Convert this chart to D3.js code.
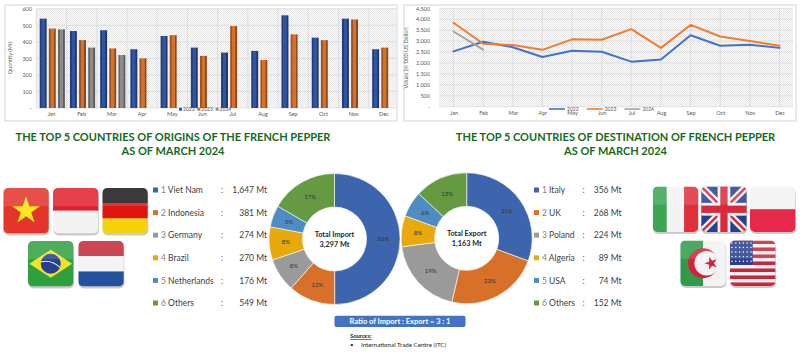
<!DOCTYPE html>
<html><head><meta charset="utf-8">
<script src="https://cdnjs.cloudflare.com/ajax/libs/d3/7.8.5/d3.min.js"></script>
<style>html,body{margin:0;padding:0;background:#fff}svg{display:block}text{font-family:Lato,"Open Sans",sans-serif}</style>
</head><body><svg id="c" width="800" height="362"></svg>
<script>
const months=["Jan","Feb","Mar","Apr","May","Jun","Jul","Aug","Sep","Oct","Nov","Dec"];
const years=["2022","2023","2024"];
const qty2022=[540,465,470,355,435,365,335,345,560,425,540,355];
const qty2023=[480,410,360,300,440,315,495,290,445,410,535,365];
const qty2024=[475,365,320];
const val2022=[2530,2970,2720,2270,2560,2510,2060,2160,3270,2790,2830,2690];
const val2023=[3840,2880,2820,2600,3080,3060,3550,2690,3740,3210,3000,2790];
const val2024=[3440,2610];
const qtyTicks=[0,100,200,300,400,500,600];
const valTicks=[0,500,1000,1500,2000,2500,3000,3500,4000,4500];
const importNames=["Viet Nam","Indonesia","Germany","Brazil","Netherlands","Others"];
const importVals=[1647,381,274,270,176,549];
const importPct=[50,12,8,8,5,17];
const exportNames=["Italy","UK","Poland","Algeria","USA","Others"];
const exportVals=[356,268,224,89,74,152];
const exportPct=[31,23,19,8,6,13];
const sliceColors=["#3d65ad","#d9702a","#9a9a9a","#e8a90c","#4f8cc6","#659a42"];
const yearColors=["#2f55a4","#d8702a","#8c8c8c"];
const lineColors=["#4472c4","#ed7d31","#a5a5a5"];

const svg=d3.select("#c");
const defs=svg.append("defs");
const pat=defs.append("pattern").attr("id","dots").attr("width",2).attr("height",2).attr("patternUnits","userSpaceOnUse");
pat.append("rect").attr("width",2).attr("height",2).attr("fill","#fbfbfb");
pat.append("rect").attr("width",1).attr("height",1).attr("fill","#e6e6e6");
pat.append("rect").attr("x",1).attr("y",1).attr("width",1).attr("height",1).attr("fill","#e6e6e6");
function bevel(id,c){
  const g=defs.append("linearGradient").attr("id",id);
  [[0,.72],[.22,.72],[.3,1],[.7,1],[.78,.62],[1,.62]].forEach(([o,k])=>{
    g.append("stop").attr("offset",o).attr("stop-color",d3.color(c).darker((1-k)*3));
  });
}
yearColors.forEach((c,i)=>bevel("bev"+i,c));

function frame(x,y,w,h){svg.append("rect").attr("x",x).attr("y",y).attr("width",w).attr("height",h).attr("fill","#fff").attr("stroke","#e2e2e2").attr("stroke-width",1.5);}
function fmt(d){return d===0?"-":d3.format(",")(d).replace(/,/g,".");}
function axisText(g){g.selectAll("text").attr("fill","#595959").style("font-size","5.5px");g.selectAll(".tick line").remove();g.select(".domain").remove();}

// bar chart
frame(5,5,392,116);
const bx=d3.scaleBand().domain(months).range([36.3,399]);
const by=d3.scaleLinear().domain([0,600]).range([108,8.7]);
svg.append("rect").attr("x",36.3).attr("y",8.7).attr("width",360).attr("height",99.3).attr("fill","url(#dots)");
const bg=svg.append("g");
bg.selectAll(".gy").data(qtyTicks).join("line").attr("x1",36.3).attr("x2",396).attr("y1",d=>by(d)).attr("y2",d=>by(d)).attr("stroke","#d9d9d9").attr("stroke-width",.8);
bg.selectAll(".gx").data(months).join("line").attr("x1",d=>bx(d)).attr("x2",d=>bx(d)).attr("y1",8.7).attr("y2",108).attr("stroke","#d9d9d9").attr("stroke-width",.8);
const sub=d3.scaleBand().domain(years).range([3.4,28.6]).paddingInner(.24);
[qty2022,qty2023,qty2024].forEach((arr,i)=>{
  svg.append("g").selectAll("rect").data(arr).join("rect")
    .attr("x",(d,j)=>bx(months[j])+sub(years[i])).attr("width",sub.bandwidth())
    .attr("y",d=>by(d)).attr("height",d=>by(0)-by(d)).attr("fill","url(#bev"+i+")");
});
svg.append("g").attr("transform","translate(35,0)").call(d3.axisLeft(by).tickValues(qtyTicks).tickFormat(fmt).tickSize(0)).call(axisText);
svg.append("g").attr("transform","translate(0,109)").call(d3.axisBottom(bx).tickSize(0).tickPadding(3)).call(axisText);
svg.append("text").attr("transform","translate(12,58) rotate(-90)").attr("text-anchor","middle").attr("font-size",5.5).attr("fill","#595959").text("Quantity (Mt)");
const bl=svg.append("g");
years.forEach((y,i)=>{
  const x=179+i*18.3;
  bl.append("rect").attr("x",x).attr("y",107.7).attr("width",3).attr("height",3).attr("fill",yearColors[i]);
  bl.append("text").attr("x",x+4).attr("y",111).attr("font-size",5).attr("fill","#595959").text(y);
});

// line chart
frame(404,5,392,116);
const lx=d3.scalePoint().domain(months).range([453.5,779.5]);
const ly=d3.scaleLinear().domain([0,4500]).range([106.7,8.3]);
svg.append("rect").attr("x",439).attr("y",8.3).attr("width",354).attr("height",98.4).attr("fill","url(#dots)");
const lg=svg.append("g");
lg.selectAll(".gy").data(valTicks).join("line").attr("x1",439).attr("x2",793).attr("y1",d=>ly(d)).attr("y2",d=>ly(d)).attr("stroke","#d9d9d9").attr("stroke-width",.8);
lg.selectAll(".gx").data(months).join("line").attr("x1",d=>lx(d)).attr("x2",d=>lx(d)).attr("y1",8.3).attr("y2",106.7).attr("stroke","#d9d9d9").attr("stroke-width",.8);
const lineGen=d3.line().x((d,j)=>lx(months[j])).y(d=>ly(d));
[val2022,val2023,val2024].forEach((arr,i)=>{
  svg.append("path").attr("d",lineGen(arr)).attr("fill","none").attr("stroke",lineColors[i]).attr("stroke-width",2).attr("stroke-linejoin","round").attr("stroke-linecap","round");
});
svg.append("g").attr("transform","translate(433,0)").call(d3.axisLeft(ly).tickValues(valTicks).tickFormat(fmt).tickSize(0)).call(axisText);
svg.append("g").attr("transform","translate(0,108)").call(d3.axisBottom(lx).tickSize(0).tickPadding(3)).call(axisText);
svg.append("text").attr("transform","translate(408,58) rotate(-90)").attr("text-anchor","middle").attr("font-size",5.5).attr("fill","#595959").text("Values (in '000 US Dollar)");
years.forEach((y,i)=>{
  const x=549+i*37.7;
  svg.append("line").attr("x1",x).attr("x2",x+16).attr("y1",109).attr("y2",109).attr("stroke",lineColors[i]).attr("stroke-width",1.6);
  svg.append("text").attr("x",x+18).attr("y",111).attr("font-size",5).attr("fill","#595959").text(y);
});

// titles
function title(cx,l1,l2){
  [[l1,141],[l2,155]].forEach(([t,y])=>svg.append("text").attr("x",cx).attr("y",y).attr("text-anchor","middle").attr("font-size",11).attr("font-weight",700).attr("fill","#156a1e").text(t));
}
title(173,"THE TOP 5 COUNTRIES OF ORIGINS OF THE FRENCH PEPPER","AS OF MARCH 2024");
title(615.5,"THE TOP 5 COUNTRIES OF DESTINATION OF FRENCH PEPPER","AS OF MARCH 2024");

// legends
function legend(sx,tx,colx,valx,names,vals){
  names.forEach((n,i)=>{
    const y=190+i*22.6;
    svg.append("rect").attr("x",sx).attr("y",y-2.5).attr("width",5).attr("height",5).attr("fill",sliceColors[i]);
    const t=svg.append("text").attr("x",tx).attr("y",y+3.2).attr("font-size",8.5).attr("fill","#404040");
    t.append("tspan").attr("fill","#7f7f7f").text(i+1);
    t.append("tspan").text(" "+n);
    svg.append("text").attr("x",colx).attr("y",y+3.2).attr("font-size",8.5).attr("fill","#595959").text(":");
    svg.append("text").attr("x",valx).attr("y",y+3.2).attr("text-anchor","end").attr("font-size",8.5).attr("fill","#404040").text(d3.format(",")(vals[i])+" Mt");
  });
}
legend(153,161,221,267,importNames,importVals);
legend(534,542,582.5,621.5,exportNames,exportVals);

// donuts
function donut(cx,cy,R,r,vals,pct,t1,t2){
  const pie=d3.pie().sort(null)(vals);
  const arc=d3.arc().innerRadius(r).outerRadius(R);
  const g=svg.append("g").attr("transform",`translate(${cx},${cy})`);
  g.selectAll("path").data(pie).join("path").attr("d",arc).attr("fill",(d,i)=>sliceColors[i]).attr("stroke","#fff").attr("stroke-width",.6);
  g.selectAll(".p").data(pie).join("text").attr("transform",d=>`translate(${arc.centroid(d)})`).attr("text-anchor","middle").attr("dy","0.35em").attr("font-size",6).attr("fill","#333").text((d,i)=>pct[i]+"%");
  g.append("text").attr("text-anchor","middle").attr("y",-2).attr("font-size",7.3).attr("font-weight",700).attr("fill","#262626").text(t1);
  g.append("text").attr("text-anchor","middle").attr("y",8).attr("font-size",7.3).attr("font-weight",700).attr("fill","#262626").text(t2);
}
donut(334.5,239,65.5,32,importVals,importPct,"Total Import","3,297 Mt");
donut(466.7,238.3,65.5,32,exportVals,exportPct,"Total Export","1,163 Mt");

// ratio pill
svg.append("rect").attr("x",334.5).attr("y",315.7).attr("width",131).attr("height",11.3).attr("rx",2).attr("fill","#4472c4");
svg.append("text").attr("x",400).attr("y",324.3).attr("text-anchor","middle").attr("font-size",7.5).attr("font-weight",700).attr("fill","#fff").text("Ratio of Import : Export = 3 : 1");

// sources
svg.append("text").attr("x",350).attr("y",338).attr("font-size",6.2).attr("font-weight",700).attr("font-style","italic").attr("text-decoration","underline").attr("fill","#262626").text("Sources:");
svg.append("text").attr("x",350).attr("y",346.5).attr("font-size",6.2).attr("fill","#262626").text("•");
svg.append("text").attr("x",361).attr("y",346.5).attr("font-size",6.2).attr("fill","#262626").text("International Trade Centre (ITC)");

// flags
let fid=0;
function flag(x,y,draw){
  const s=45.5,id="f"+(fid++);
  defs.append("clipPath").attr("id",id).append("rect").attr("width",s).attr("height",s).attr("rx",5);
  const g=svg.append("g").attr("transform",`translate(${x},${y})`);
  g.append("rect").attr("x",.5).attr("y",2).attr("width",s).attr("height",s).attr("rx",5).attr("fill","#8a8a8a").attr("opacity",.45);
  const f=g.append("g").attr("clip-path",`url(#${id})`);
  draw(f,s);
  f.append("rect").attr("width",s).attr("height",s*.4).attr("fill","#fff").attr("opacity",.14);
}
function bands(f,s,cols,vert){
  cols.forEach(([c,a,b])=>f.append("rect").attr(vert?"x":"y",a*s).attr(vert?"width":"height",(b-a)*s).attr(vert?"y":"x",0).attr(vert?"height":"width",s).attr("fill",c));
}
function star(f,cx,cy,R,c,rot){
  const pts=d3.range(10).map(i=>{const rr=i%2?R*.38:R,a=(rot||0)-Math.PI/2+i*Math.PI/5;return [cx+rr*Math.cos(a),cy+rr*Math.sin(a)];});
  f.append("polygon").attr("points",pts.join(" ")).attr("fill",c);
}
flag(3.3,188,(f,s)=>{f.append("rect").attr("width",s).attr("height",s).attr("fill","#e4342b");star(f,s*.5,s*.5,s*.32,"#f7e81c");});
flag(53,188,(f,s)=>bands(f,s,[["#e2202f",0,.5],["#f3f3f3",.5,1]]));
flag(102.3,188,(f,s)=>bands(f,s,[["#1a1a1a",0,.33],["#e2140f",.33,.67],["#f4d30a",.67,1]]));
flag(28,241,(f,s)=>{f.append("rect").attr("width",s).attr("height",s).attr("fill","#2fa040");
  f.append("polygon").attr("points",[[s*.03,s*.5],[s*.5,s*.19],[s*.97,s*.5],[s*.5,s*.81]].join(" ")).attr("fill","#f4e12a");
  f.append("circle").attr("cx",s*.5).attr("cy",s*.5).attr("r",s*.22).attr("fill","#2a3f8f");
  f.append("path").attr("d",`M${s*.29},${s*.46} Q${s*.5},${s*.4} ${s*.7},${s*.58}`).attr("stroke","#eee").attr("stroke-width",1.2).attr("fill","none");});
flag(78.3,241,(f,s)=>bands(f,s,[["#c5283a",0,.33],["#f3f3f3",.33,.67],["#24519e",.67,1]]));
flag(652.7,186.5,(f,s)=>bands(f,s,[["#3ca555",0,.31],["#f3f3f3",.31,.69],["#e0303c",.69,1]],true));
flag(701.2,186.5,(f,s)=>{f.append("rect").attr("width",s).attr("height",s).attr("fill","#29408e");
  [[0,0,s,s],[0,s,s,0]].forEach(([a,b,c,d])=>{f.append("line").attr("x1",a).attr("y1",b).attr("x2",c).attr("y2",d).attr("stroke","#f3f3f3").attr("stroke-width",7);f.append("line").attr("x1",a).attr("y1",b).attr("x2",c).attr("y2",d).attr("stroke","#d9293a").attr("stroke-width",2.4);});
  f.append("rect").attr("x",s*.36).attr("width",s*.28).attr("height",s).attr("fill","#f3f3f3");
  f.append("rect").attr("y",s*.36).attr("width",s).attr("height",s*.28).attr("fill","#f3f3f3");
  f.append("rect").attr("x",s*.42).attr("width",s*.16).attr("height",s).attr("fill","#d9293a");
  f.append("rect").attr("y",s*.42).attr("width",s).attr("height",s*.16).attr("fill","#d9293a");});
flag(750,186.5,(f,s)=>bands(f,s,[["#f3f3f3",0,.5],["#e6284a",.5,1]]));
flag(680.3,240.5,(f,s)=>{bands(f,s,[["#2f9b4a",0,.5],["#f3f3f3",.5,1]],true);
  f.append("circle").attr("cx",s*.5).attr("cy",s*.5).attr("r",s*.33).attr("fill","#d8203c");
  f.append("circle").attr("cx",s*.58).attr("cy",s*.5).attr("r",s*.27).attr("fill","#f3f3f3");
  f.append("rect").attr("width",0).attr("height",0);
  star(f,s*.68,s*.5,s*.15,"#d8203c",-Math.PI/2);});
flag(730,240.5,(f,s)=>{const stripes=d3.range(13);
  f.selectAll(".st").data(stripes).join("rect").attr("y",d=>d*s/13).attr("width",s).attr("height",s/13+.2).attr("fill",d=>d%2?"#f3f3f3":"#cf2339");
  f.append("rect").attr("width",s*.5).attr("height",s*7/13).attr("fill","#2a3f8f");
  const xs=d3.range(6),ys=d3.range(5);
  ys.forEach(a=>xs.forEach(b=>f.append("circle").attr("cx",2+b*3.8).attr("cy",2.4+a*4.6).attr("r",.75).attr("fill","#fff")));});
</script></body></html>
